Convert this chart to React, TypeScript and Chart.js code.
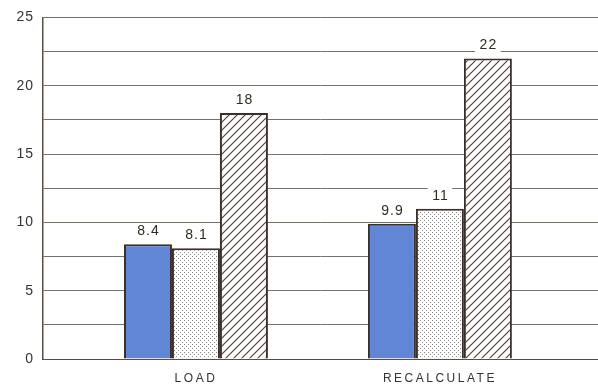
import React, { useEffect, useRef } from "react";
import { Chart, registerables } from "chart.js";

Chart.register(...registerables);

const categories = ["LOAD", "RECALCULATE"];
const seriesBlue = [8.4, 9.9];
const seriesDotted = [8.1, 11];
const seriesHatched = [18, 22];
const yTickLabels = [0, 5, 10, 15, 20, 25];

const FONT = "'Liberation Sans', Arial, sans-serif";

function makeDotPattern(): CanvasPattern | string {
  const c = document.createElement("canvas");
  c.width = 4;
  c.height = 4;
  const g = c.getContext("2d");
  if (!g) return "#eee";
  g.fillStyle = "#ffffff";
  g.fillRect(0, 0, 4, 4);
  g.fillStyle = "#8a8a8a";
  g.fillRect(0, 0, 1, 1);
  g.fillRect(2, 2, 1, 1);
  return g.createPattern(c, "repeat") || "#eee";
}

function makeHatchPattern(): CanvasPattern | string {
  const s = 8;
  const c = document.createElement("canvas");
  c.width = s;
  c.height = s;
  const g = c.getContext("2d");
  if (!g) return "#fff";
  g.fillStyle = "#ffffff";
  g.fillRect(0, 0, s, s);
  g.strokeStyle = "#4a3a32";
  g.lineWidth = 1.1;
  g.beginPath();
  g.moveTo(-1, s + 1);
  g.lineTo(s + 1, -1);
  g.moveTo(-1 - s, s + 1);
  g.lineTo(1, -1);
  g.moveTo(s - 1, s + 1);
  g.lineTo(2 * s + 1, -1);
  g.stroke();
  return g.createPattern(c, "repeat") || "#fff";
}

const spacing = {
  id: "spacing",
  beforeDraw(chart: any) {
    (chart.ctx as any).letterSpacing = "1px";
  },
  afterDraw(chart: any) {
    (chart.ctx as any).letterSpacing = "0px";
  },
};

const valueLabels = {
  id: "valueLabels",
  afterDatasetsDraw(chart: any) {
    const ctx = chart.ctx;
    ctx.save();
    ctx.letterSpacing = "1px";
    ctx.font = "14px " + FONT;
    ctx.textAlign = "center";
    ctx.textBaseline = "bottom";
    chart.data.datasets.forEach((ds: any, di: number) => {
      const meta = chart.getDatasetMeta(di);
      meta.data.forEach((el: any, i: number) => {
        const v = ds.data[i].y;
        const txt = String(v);
        const w = ctx.measureText(txt).width;
        const y = el.y - 6;
        ctx.fillStyle = "#ffffff";
        ctx.fillRect(el.x - w / 2 - 4, y - 15, w + 8, 15);
        ctx.fillStyle = "#2e2e1e";
        ctx.fillText(txt, el.x + 0.5, y);
      });
    });
    ctx.restore();
    // wider spacing for the category labels drawn afterwards (x ticks on z: 1)
    ctx.letterSpacing = "2.5px";
  },
};

export default function App() {
  const ref = useRef<HTMLCanvasElement | null>(null);

  useEffect(() => {
    if (!ref.current) return;
    const border = "#3b2f2a";
    const mk = (vals: number[]) => categories.map((_, i) => ({ x: i, y: vals[i] }));
    const chart = new Chart(ref.current, {
      type: "bar",
      data: {
        datasets: [
          {
            label: "A",
            data: mk(seriesBlue),
            backgroundColor: "#6286d6",
            borderColor: border,
            borderWidth: 2,
          },
          {
            label: "B",
            data: mk(seriesDotted),
            backgroundColor: makeDotPattern() as any,
            borderColor: border,
            borderWidth: 2,
          },
          {
            label: "C",
            data: mk(seriesHatched),
            backgroundColor: makeHatchPattern() as any,
            borderColor: border,
            borderWidth: 2,
          },
        ],
      },
      options: {
        responsive: false,
        animation: false,
        layout: { padding: { top: 17, right: 0, left: 0, bottom: 0 } },
        plugins: { legend: { display: false }, tooltip: { enabled: false } },
        datasets: { bar: { categoryPercentage: 0.59, barPercentage: 1 } },
        scales: {
          x: {
            type: "linear",
            offset: false,
            min: -0.627,
            max: 1.648,
            grid: { display: false },
            border: { display: true, color: "#5a4e44", width: 1 },
            afterBuildTicks: (scale: any) => {
              scale.ticks = categories.map((_, i) => ({ value: i }));
            },
            afterFit: (scale: any) => {
              scale.height = 25;
            },
            ticks: {
              z: 1,
              autoSkip: false,
              maxRotation: 0,
              padding: 4,
              color: "#333333",
              font: { family: FONT, size: 12 },
              callback: (v: any) => categories[Number(v)] ?? "",
            },
          },
          y: {
            min: 0,
            max: 25,
            grid: { color: "#7c7064", lineWidth: 1, drawTicks: false },
            border: { display: true, color: "#5a4e44", width: 1.5 },
            afterFit: (scale: any) => {
              scale.width = 43;
            },
            ticks: {
              stepSize: 2.5,
              padding: 9,
              color: "#333333",
              font: { family: FONT, size: 14 },
              callback: (v: any) => (yTickLabels.includes(Number(v)) ? String(v) : ""),
            },
          },
        },
      },
      plugins: [spacing, valueLabels],
    } as any);
    return () => chart.destroy();
  }, []);

  return (
    <div style={{ position: "fixed", left: 0, top: 0, width: 598, height: 384, background: "#ffffff" }}>
      <canvas ref={ref} width={598} height={384} />
    </div>
  );
}
